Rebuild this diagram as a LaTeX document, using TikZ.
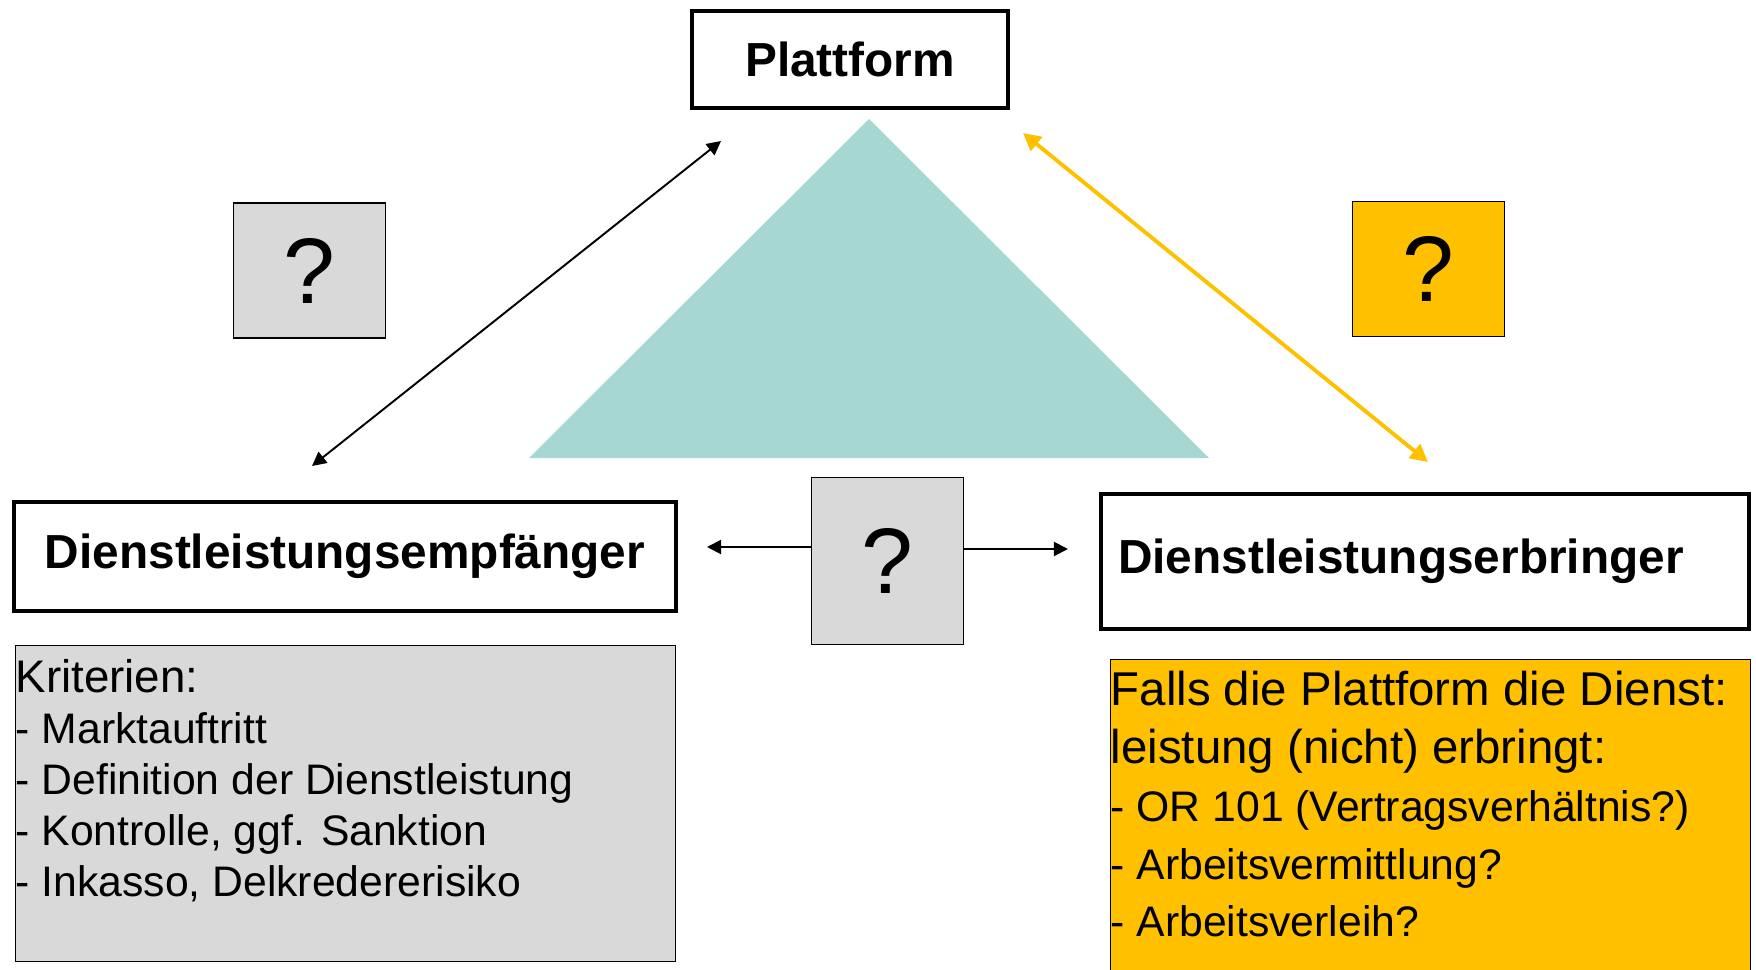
\documentclass[tikz,border=0pt]{standalone}
\usepackage{fontspec}
\setmainfont{Liberation Sans}
\usetikzlibrary{arrows.meta}
\definecolor{grau}{HTML}{D9D9D9}
\definecolor{gelb}{HTML}{FFC000}
\definecolor{tuerkis}{HTML}{A6D7D2}
\tikzstyle{rolle}=[rectangle,draw=black,line width=2.2pt,font=\bfseries\fontsize{27.2}{32}\selectfont,inner sep=0pt]
\tikzstyle{frage}=[rectangle,draw=black,line width=0.8pt,font=\fontsize{53}{60}\selectfont,minimum width=3.04cm,inner sep=0pt]
\tikzstyle{textbox}=[rectangle,draw=black,line width=0.8pt,anchor=north west,inner sep=0pt]
\tikzstyle{pfeil}=[<->,>={Triangle[length=8pt,width=8pt]},line width=1.1pt]
\tikzstyle{gpfeil}=[<->,>={Triangle[length=10pt,width=10pt]},line width=2.2pt,draw=gelb]

\begin{document}
\begin{tikzpicture}[x=0.02cm,y=-0.02cm]
\useasboundingbox (0,0) rectangle (1756,970);
% Dreieck
\fill[tuerkis] (869,119) -- (1209,458) -- (529,458) -- cycle;
% Akteure
\node[rolle,minimum width=6.32cm,minimum height=1.94cm] (plat) at (850,59.5) {Plattform};
\node[rolle,minimum width=13.24cm,minimum height=2.18cm] (empf) at (345,556.5) {Dienstleistungsempfänger};
\node[rolle,minimum width=12.96cm,minimum height=2.7cm,text width=12.28cm,align=left,inner xsep=0.34cm] (erbr) at (1425,561.5) {Dienstleistungserbringer};
% Fragezeichen
\node[frage,fill=grau,minimum height=2.7cm] (qlinks) at (309.5,270.5) {?};
\node[frage,fill=gelb,minimum height=2.7cm] (qrechts) at (1428.5,269) {?};
\node[frage,fill=grau,minimum height=3.34cm] (qmitte) at (887.5,561) {?};
% Textkaesten
\node[textbox,fill=grau] (krit) at (15,645) {\parbox[c][6.32cm][t]{13.2cm}{\raggedright\vspace*{0.28cm}%
\fontsize{26}{29}\selectfont Kriterien:\\
\fontsize{24.3}{29}\selectfont - Marktauftritt\\
- Definition der Dienstleistung\\
- Kontrolle, ggf. Sanktion\\
- Inkasso, Delkredererisiko}};
\node[textbox,fill=gelb] (falls) at (1110,659) {\parbox[c][7cm][t]{12.8cm}{\raggedright\vspace*{0.22cm}%
\fontsize{27}{33}\selectfont Falls die Plattform die Dienst:\\
leistung (nicht) erbringt:\\
\fontsize{24.3}{33}\selectfont - OR 101 (Vertragsverhältnis?)\\
- Arbeitsvermittlung?\\
- Arbeitsverleih?}};
% Pfeile
\coordinate (e1) at (312,466); \coordinate (p1) at (721,141);
\coordinate (p2) at (1023,133); \coordinate (e2) at (1428,462);
\coordinate (el) at (707,547); \coordinate (er) at (1068,549);
\draw[pfeil] (e1) -- (p1);
\draw[gpfeil] (p2) -- (e2);
\draw[pfeil,->] (qmitte.west|-el) -- (el);
\draw[pfeil,->] (qmitte.east|-er) -- (er);
\end{tikzpicture}
\end{document}
